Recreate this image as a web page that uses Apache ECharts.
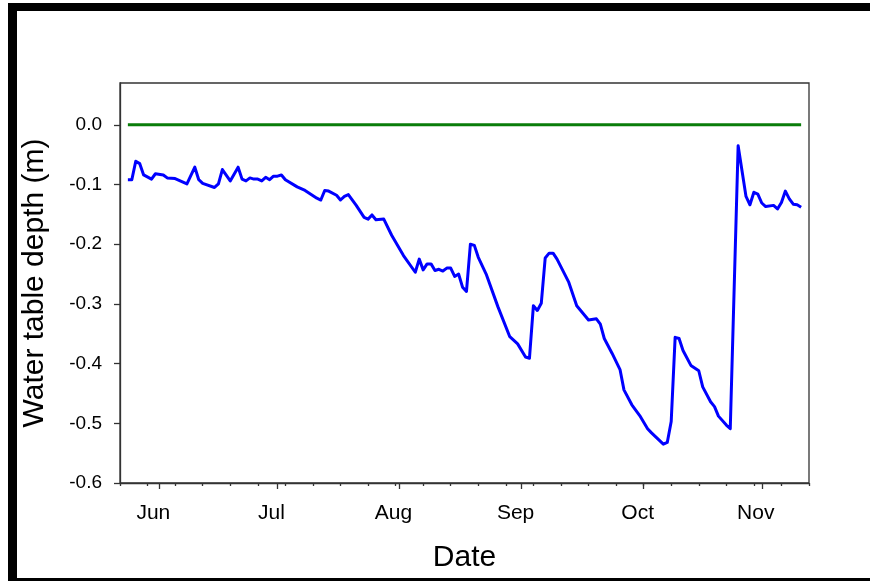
<!DOCTYPE html>
<html>
<head>
<meta charset="utf-8">
<script src="https://cdn.jsdelivr.net/npm/echarts@6/dist/echarts.min.js"></script>
<style>html,body{margin:0;padding:0;background:#fff;}#chart{width:870px;height:581px;}</style>
</head>
<body>
<div id="chart"></div>
<script>
// Day offsets counted from 22 May (day 0); axis runs to 13 Nov (day 175)
const monthNames = ['Jun', 'Jul', 'Aug', 'Sep', 'Oct', 'Nov'];
const monthStartDays = [10, 40, 71, 102, 133, 163];
const yTickValues = [-0.6, -0.5, -0.4, -0.3, -0.2, -0.1, 0.0];

const depthDays = [2,3,4,5,6,8,9,11,12,14,16,17,19,20,21,24,25,26,28,30,31,32,33,34,35,36,37,38,39,40,41,42,45,47,50,51,52,53,55,56,57,58,60,62,63,64,65,67,69,72,75,76,77,78,79,80,81,82,83,84,85,86,87,88,89,90,91,93,96,99,101,103,104,105,106,107,108,109,110,111,114,116,119,121,122,123,125,127,128,130,132,134,135,138,139,140,141,142,143,145,147,148,150,151,152,154,155,157,159,160,161,162,163,164,166,167,168,169,170,171,172,173];
const depthValues = [-0.092,-0.092,-0.061,-0.065,-0.084,-0.091,-0.082,-0.084,-0.089,-0.090,-0.096,-0.099,-0.071,-0.092,-0.098,-0.105,-0.099,-0.075,-0.094,-0.071,-0.091,-0.094,-0.089,-0.091,-0.091,-0.094,-0.088,-0.092,-0.086,-0.086,-0.084,-0.092,-0.104,-0.110,-0.123,-0.126,-0.110,-0.111,-0.118,-0.126,-0.120,-0.117,-0.135,-0.155,-0.158,-0.151,-0.159,-0.158,-0.185,-0.219,-0.247,-0.225,-0.243,-0.233,-0.233,-0.244,-0.242,-0.245,-0.240,-0.240,-0.254,-0.250,-0.272,-0.279,-0.200,-0.202,-0.222,-0.250,-0.305,-0.355,-0.367,-0.389,-0.391,-0.303,-0.311,-0.299,-0.223,-0.215,-0.215,-0.225,-0.264,-0.303,-0.327,-0.325,-0.334,-0.358,-0.383,-0.410,-0.444,-0.469,-0.487,-0.509,-0.516,-0.535,-0.532,-0.497,-0.356,-0.358,-0.378,-0.403,-0.412,-0.439,-0.464,-0.472,-0.488,-0.503,-0.509,-0.035,-0.120,-0.134,-0.113,-0.116,-0.131,-0.137,-0.135,-0.141,-0.130,-0.111,-0.124,-0.133,-0.134,-0.138];

const groundDays = [2, 173];
const groundValues = [0, 0];

const pair = (xs, ys) => xs.map((x, i) => [x, ys[i]]);

const chart = echarts.init(document.getElementById('chart'), null, {renderer: 'canvas'});
const FONT = 'Liberation Sans, Arial, sans-serif';
const AX = '#333333';

chart.setOption({
  animation: false,
  backgroundColor: '#ffffff',
  grid: {left: 120, top: 83, right: 61, bottom: 98, show: true, borderColor: AX, borderWidth: 1.3, backgroundColor: 'transparent'},
  xAxis: [
    {
      type: 'value', min: 0, max: 175,
      name: 'Date', nameLocation: 'middle', nameGap: 60,
      nameTextStyle: {fontFamily: FONT, fontSize: 30, color: '#000'},
      axisLine: {show: true, onZero: false, lineStyle: {color: AX, width: 1.3}},
      axisTick: {show: true, customValues: monthStartDays, length: 6, lineStyle: {color: AX, width: 1.3}},
      axisLabel: {show: true, customValues: monthStartDays, margin: 20, fontFamily: FONT, fontSize: 21, color: '#000',
        padding: [0, 12, 0, 0],
        formatter: v => monthNames[monthStartDays.indexOf(Math.round(v))] || ''},
      splitLine: {show: false}
    },
    {
      type: 'value', min: 0, max: 175, interval: 7, position: 'bottom',
      axisLine: {show: false, onZero: false},
      axisTick: {show: true, length: 3, lineStyle: {color: AX, width: 1.3}},
      axisLabel: {show: false},
      splitLine: {show: false}
    }
  ],
  yAxis: {
    type: 'value', min: -0.6, max: 0.07,
    name: 'Water table depth (m)', nameLocation: 'middle', nameGap: 70,
    nameTextStyle: {fontFamily: FONT, fontSize: 30, color: '#000'},
    axisLine: {show: true, onZero: false, lineStyle: {color: AX, width: 1.3}},
    axisTick: {show: true, customValues: yTickValues, length: 6, lineStyle: {color: AX, width: 1.3}},
    axisLabel: {show: true, customValues: yTickValues, margin: 18, fontFamily: FONT, fontSize: 19, color: '#000',
      formatter: v => (Math.abs(v) < 1e-9 ? '0.0' : v.toFixed(1))},
    splitLine: {show: false}
  },
  graphic: [
    {type: 'rect', shape: {x: 8, y: 3, width: 862, height: 8}, style: {fill: '#000'}, z: 100},
    {type: 'rect', shape: {x: 8, y: 3, width: 9, height: 578}, style: {fill: '#000'}, z: 100},
    {type: 'rect', shape: {x: 8, y: 578, width: 862, height: 3}, style: {fill: '#000'}, z: 100}
  ],
  series: [
    {
      type: 'line', xAxisIndex: 0, data: pair(groundDays, groundValues), symbol: 'none',
      lineStyle: {color: '#0a7d0a', width: 3}, z: 2
    },
    {
      type: 'line', xAxisIndex: 0, data: pair(depthDays, depthValues), symbol: 'none',
      lineStyle: {color: '#0000ff', width: 3, join: 'round'}, z: 3
    }
  ]
});
</script>
</body>
</html>
